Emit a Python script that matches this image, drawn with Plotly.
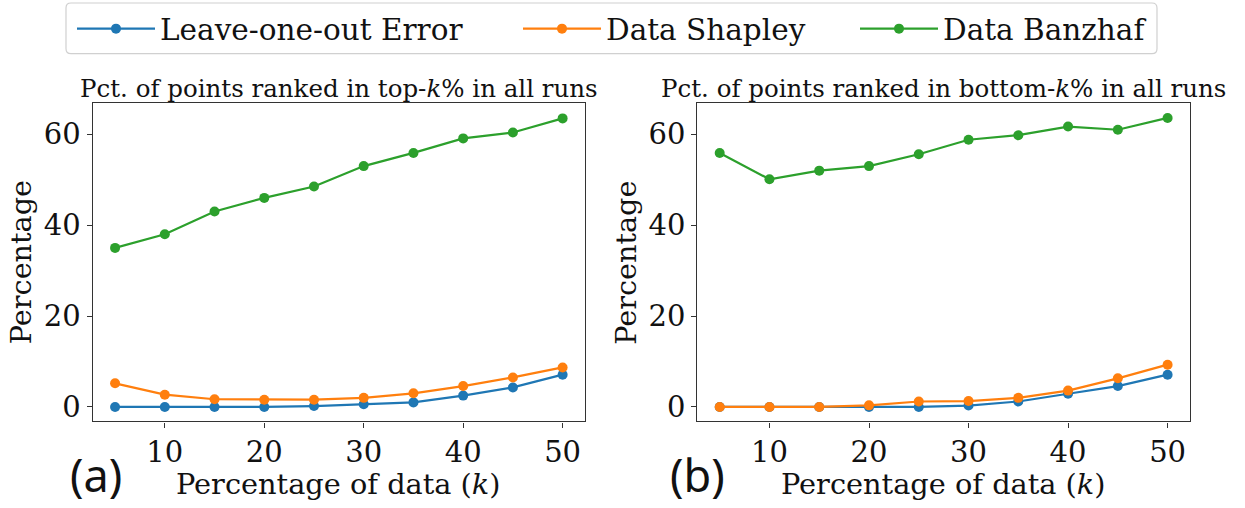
import plotly.graph_objects as go

# ---- data ----
k_values = [5, 10, 15, 20, 25, 30, 35, 40, 45, 50]

top_loo = [0.0, 0.0, 0.0, 0.0, 0.2, 0.6, 1.0, 2.5, 4.3, 7.1]
top_shapley = [5.2, 2.7, 1.7, 1.6, 1.6, 2.0, 3.0, 4.6, 6.5, 8.7]
top_banzhaf = [35.0, 38.0, 43.0, 46.0, 48.5, 53.0, 55.9, 59.1, 60.4, 63.5]

bot_loo = [0.0, 0.0, 0.0, 0.0, 0.0, 0.3, 1.2, 2.9, 4.6, 7.1]
bot_shapley = [0.0, 0.0, 0.0, 0.35, 1.2, 1.3, 2.0, 3.6, 6.3, 9.3]
bot_banzhaf = [55.9, 50.1, 52.0, 53.0, 55.6, 58.8, 59.8, 61.7, 61.0, 63.6]

series_names = ["Leave-one-out Error", "Data Shapley", "Data Banzhaf"]
series_colors = ["#1f77b4", "#ff7f0e", "#2ca02c"]

panel_titles = ["Pct. of points ranked in top-<i>k</i>% in all runs",
                "Pct. of points ranked in bottom-<i>k</i>% in all runs"]
panel_labels = ["(a)", "(b)"]
x_title = "Percentage of data (<i>k</i>)"
y_title = "Percentage"
x_ticks = [10, 20, 30, 40, 50]
y_ticks = [0, 20, 40, 60]

W, H = 1245, 508
SERIF = "DejaVu Serif"
TXT = "#111111"

fig = go.Figure()

legend_ids = ["legend", "legend2", "legend3"]
panels = [
    ("x", "y", [top_loo, top_shapley, top_banzhaf]),
    ("x2", "y2", [bot_loo, bot_shapley, bot_banzhaf]),
]
for pi, (xa, ya, data) in enumerate(panels):
    for si, vals in enumerate(data):
        fig.add_trace(go.Scatter(
            x=k_values, y=vals, mode="lines+markers",
            name=series_names[si], legendgroup=series_names[si],
            legend=legend_ids[si],
            showlegend=(pi == 0),
            line=dict(color=series_colors[si], width=2.2),
            marker=dict(color=series_colors[si], size=10),
            xaxis=xa, yaxis=ya,
        ))

# pixel geometry of the axes boxes
left_dom = [92.7 / W, 585 / W]
right_dom = [697.3 / W, 1190 / W]
y_dom = [1 - 424 / H, 1 - 104 / H]

axis_common = dict(
    showline=True, mirror=True, linecolor="#333333", linewidth=1.3,
    ticks="outside", ticklen=5, tickwidth=1.3, tickcolor="#333333",
    showgrid=False, zeroline=False,
    tickfont=dict(family=SERIF, size=29, color=TXT),
)

legend_common = dict(
    orientation="h", xanchor="left", y=1 - 3 / H, yanchor="top",
    borderwidth=0, bgcolor="rgba(0,0,0,0)",
    font=dict(family=SERIF, size=29.5, color=TXT),
    itemwidth=78,
)
legend_x_px = [72, 518, 855]

fig.update_layout(
    width=W, height=H,
    margin=dict(l=0, r=0, t=0, b=0),
    paper_bgcolor="white", plot_bgcolor="white",
    xaxis=dict(domain=left_dom, range=[2.75, 52.25], tickvals=x_ticks,
               anchor="y", **axis_common),
    yaxis=dict(domain=y_dom, range=[-3.2, 66.8], tickvals=y_ticks,
               anchor="x", **axis_common),
    xaxis2=dict(domain=right_dom, range=[2.75, 52.25], tickvals=x_ticks,
                anchor="y2", **axis_common),
    yaxis2=dict(domain=y_dom, range=[-3.2, 66.8], tickvals=y_ticks,
                anchor="x2", **axis_common),
    legend=dict(x=legend_x_px[0] / W, **legend_common),
    legend2=dict(x=legend_x_px[1] / W, **legend_common),
    legend3=dict(x=legend_x_px[2] / W, **legend_common),
    showlegend=True,
)

# rounded legend frame
x0, x1 = 66 / W, 1157 / W
y0, y1 = 1 - 54 / H, 1 - 3 / H
rx, ry = 5 / W, 5 / H
frame = (f"M{x0+rx},{y1} L{x1-rx},{y1} Q{x1},{y1} {x1},{y1-ry} "
         f"L{x1},{y0+ry} Q{x1},{y0} {x1-rx},{y0} L{x0+rx},{y0} "
         f"Q{x0},{y0} {x0},{y0+ry} L{x0},{y1-ry} Q{x0},{y1} {x0+rx},{y1} Z")
fig.add_shape(type="path", path=frame, xref="paper", yref="paper",
              line=dict(color="#d0d0d0", width=1.2), fillcolor="rgba(0,0,0,0)",
              layer="below")

annotations = []
for dom, title, lab, lab_x in [(left_dom, panel_titles[0], panel_labels[0], 96 / W),
                               (right_dom, panel_titles[1], panel_labels[1], 697 / W)]:
    cx = (dom[0] + dom[1]) / 2
    annotations.append(dict(text=title, x=cx, y=1 - 89 / H, xref="paper", yref="paper",
                            xanchor="center", yanchor="middle", showarrow=False,
                            font=dict(family=SERIF, size=24.5, color=TXT)))
    annotations.append(dict(text=x_title, x=cx, y=1 - 487 / H, xref="paper", yref="paper",
                            xanchor="center", yanchor="middle", showarrow=False,
                            font=dict(family=SERIF, size=28.8, color=TXT)))
    annotations.append(dict(text=y_title, x=(dom[0] * W - 71) / W, y=(y_dom[0] + y_dom[1]) / 2,
                            xref="paper", yref="paper", textangle=-90,
                            xanchor="center", yanchor="middle", showarrow=False,
                            font=dict(family=SERIF, size=28.7, color=TXT)))
    annotations.append(dict(text=lab, x=lab_x, y=1 - 477 / H, xref="paper", yref="paper",
                            xanchor="center", yanchor="middle", showarrow=False,
                            font=dict(family="Noto Sans", size=45, color=TXT)))
fig.update_layout(annotations=annotations)

fig.write_html("out.html", config={"displayModeBar": False},
               post_script="document.body.style.margin='0';document.body.style.padding='0';")
